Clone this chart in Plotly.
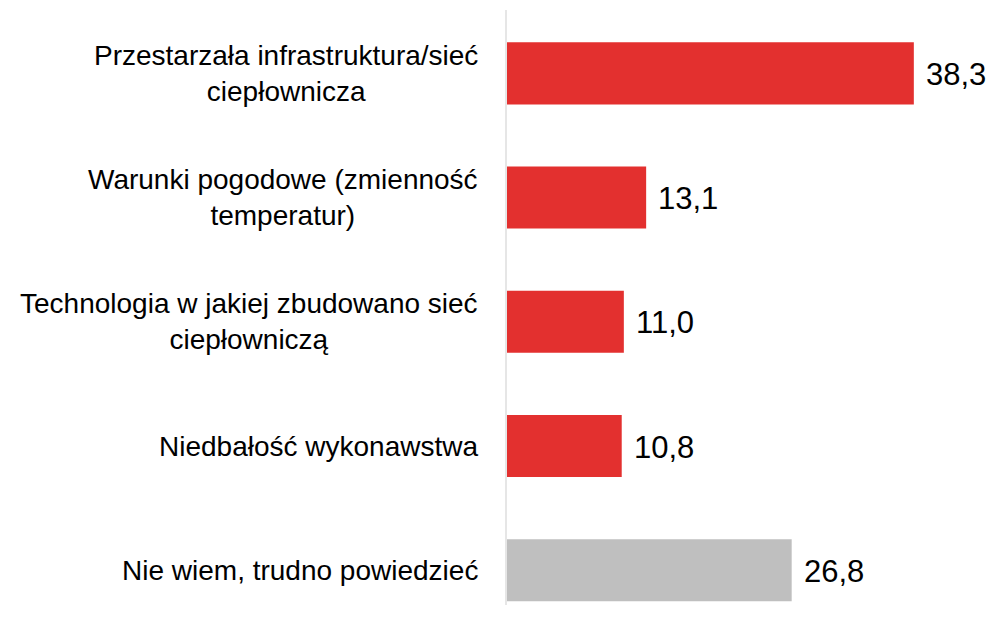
import plotly.graph_objects as go

categories = [
    "Przestarzała infrastruktura/sieć<br>ciepłownicza",
    "Warunki pogodowe (zmienność<br>temperatur)",
    "Technologia w jakiej zbudowano sieć<br>ciepłowniczą",
    "Niedbałość wykonawstwa",
    "Nie wiem, trudno powiedzieć",
]
values = [38.3, 13.1, 11.0, 10.8, 26.8]
colors = ["#E3302F", "#E3302F", "#E3302F", "#E3302F", "#BFBFBF"]

value_labels = [f"{v:.1f}".replace(".", ",") for v in values]

fig = go.Figure()
fig.add_trace(go.Bar(
    x=values,
    y=categories,
    orientation="h",
    marker=dict(color=colors, line=dict(width=0)),
    width=0.5,
    hoverinfo="skip",
))

annotations = []
for cat, v, lab in zip(categories, values, value_labels):
    annotations.append(dict(
        x=v, y=cat, xref="x", yref="y", text=lab, showarrow=False,
        xanchor="left", yanchor="middle", xshift=10, yshift=-1,
        font=dict(family="Liberation Sans, Arial", size=31, color="#000000"),
    ))
    annotations.append(dict(
        x=0, y=cat, xref="paper", yref="y", text=cat, showarrow=False,
        xanchor="right", yanchor="middle", align="center", xshift=-27,
        font=dict(family="Liberation Sans, Arial", size=28, color="#000000"),
    ))

fig.update_layout(
    width=989, height=615,
    margin=dict(l=499, r=12, t=2, b=18),
    paper_bgcolor="white", plot_bgcolor="white",
    showlegend=False,
    xaxis=dict(range=[0, 45], visible=False, fixedrange=True),
    yaxis=dict(
        type="category",
        categoryorder="array", categoryarray=categories,
        range=[4.28, -0.51],
        showticklabels=False, showgrid=False, zeroline=False,
        showline=True, linecolor="#E6E6E6", linewidth=2, ticks="",
    ),
    annotations=annotations,
)

fig.write_html("out.html")
